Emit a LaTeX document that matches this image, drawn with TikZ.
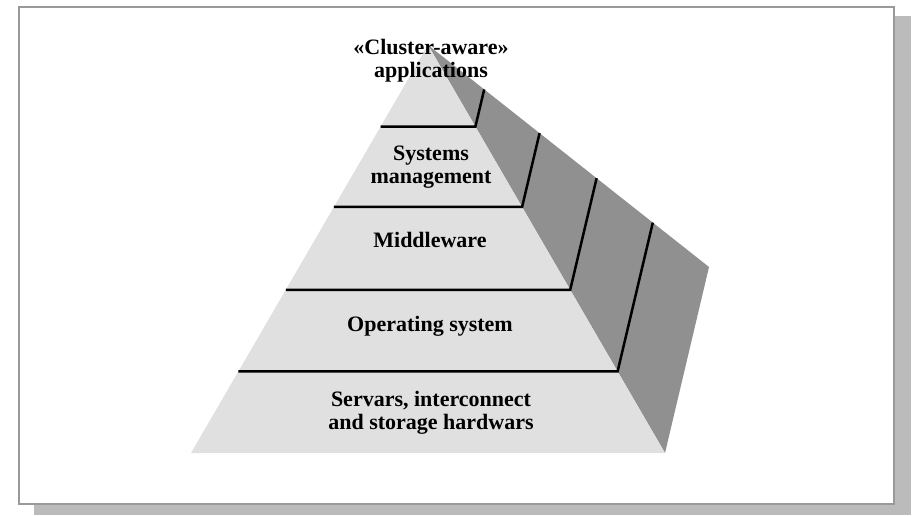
\documentclass[tikz,border=0pt]{standalone}
\usepackage{fontspec}
\setmainfont{Liberation Serif}
\usetikzlibrary{calc}
\definecolor{lightface}{HTML}{E0E0E0}
\definecolor{darkface}{HTML}{909090}
\definecolor{framegray}{HTML}{999999}
\definecolor{shadowgray}{HTML}{BBBBBB}
\tikzset{
  layertext/.style={font=\fontsize{22}{23}\selectfont\bfseries, align=center, inner sep=0pt, anchor=base, text=black},
  divider/.style={line width=2.5pt, black, line join=miter},
}
\begin{document}
\begin{tikzpicture}[x=1pt,y=-1pt]
\useasboundingbox (0,0) rectangle (915,515);
% frame with shadow
\fill[shadowgray] (34,16) rectangle (911,515);
\draw[framegray, fill=white, line width=2pt] (19,7) rectangle (894,504);
% pyramid corners
\coordinate (A) at (428,45);
\coordinate (BL) at (191,453);
\coordinate (BR) at (665,453);
\coordinate (TR) at (709,267);
% dark side face
\fill[darkface] (A) -- (TR) -- (BR) -- cycle;
% light front face
\fill[lightface] (A) -- (BL) -- (BR) -- cycle;
% dividers
\foreach \t/\n in {0.2/1,0.397/2,0.6/3,0.8/4}{
  \coordinate (l\n) at ($(A)!\t!(BL)$);
  \coordinate (r\n) at ($(A)!\t!(BR)$);
  \coordinate (s\n) at ($(A)!\t!(TR)$);
  \draw[divider] (l\n) -- (r\n) -- (s\n);
}
% labels (base anchor = baseline of last line)
\node[layertext] (apps) at (431,77) {«Cluster-aware»\\applications};
\node[layertext] (sysm) at (431,183) {Systems\\management};
\node[layertext] (mid) at (430,247) {Middleware};
\node[layertext] (os) at (430,331) {Operating system};
\node[layertext] (hw) at (431,429) {Servars, interconnect\\and storage hardwars};
\end{tikzpicture}
\end{document}
